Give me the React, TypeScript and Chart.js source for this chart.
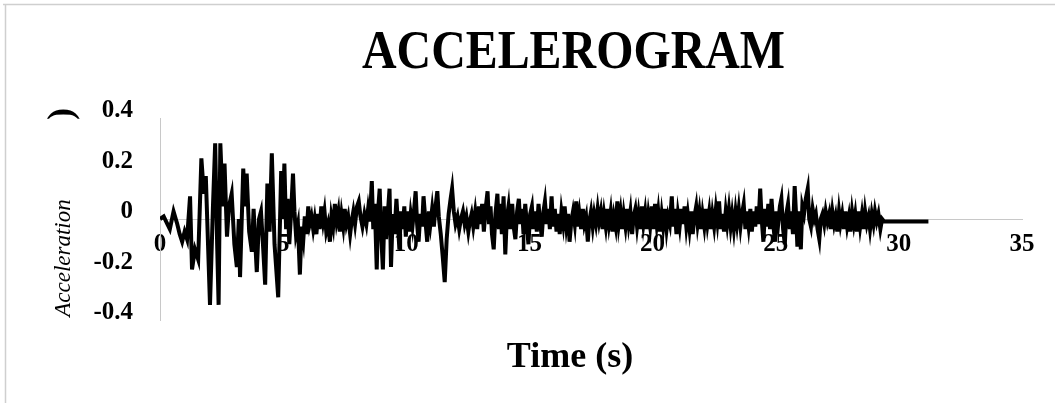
import React, { useEffect, useRef } from "react";
import { Chart, registerables } from "chart.js";

Chart.register(...registerables);

const TITLE = "ACCELEROGRAM";
const X_TITLE = "Time (s)";
const Y_TITLE = "Acceleration";
const Y_TITLE_TAIL = ")";

const X_TICKS = [0, 5, 10, 15, 20, 25, 30, 35];
const Y_TICKS = [-0.4, -0.2, 0, 0.2, 0.4];

// time (s) and acceleration (g), segment by segment
const TIME_S = [
  0.0, 0.15, 0.3, 0.4, 0.55, 0.7, 0.8, 0.9, 1.0, 1.1, 1.22, 1.3, 1.42, 1.55, 1.68, 1.78, 1.86, 2.03, 2.15, 2.24,
  2.32, 2.38, 2.45, 2.55, 2.62, 2.72, 2.8, 2.91, 3.02, 3.12, 3.2, 3.25, 3.38, 3.46, 3.52, 3.62, 3.73, 3.8, 3.93, 4.02,
  4.1, 4.18, 4.27, 4.36, 4.45, 4.54, 4.65, 4.8, 4.92,
  4.98, 5.05, 5.12, 5.18, 5.25, 5.32, 5.4, 5.46, 5.52, 5.6, 5.68, 5.75, 5.82, 5.88, 5.95, 6.02, 6.08, 6.15, 6.22, 6.28,
  6.35, 6.42, 6.48, 6.55, 6.62, 6.68, 6.75, 6.82, 6.9, 6.96, 7.03, 7.1, 7.17, 7.24, 7.3, 7.37, 7.44, 7.5, 7.57, 7.64,
  7.72, 7.78, 7.85, 7.92, 8.0, 8.07, 8.14, 8.22, 8.3, 8.38, 8.45, 8.52, 8.6, 8.66, 8.72, 8.8, 8.86, 8.92, 8.98, 9.05,
  9.12, 9.18, 9.25, 9.32, 9.38, 9.45, 9.52, 9.6, 9.66, 9.72, 9.78, 9.85, 9.92, 9.98, 10.05, 10.12, 10.18, 10.25, 10.32, 10.38,
  10.44, 10.5, 10.57, 10.64, 10.7, 10.77, 10.85, 10.92, 10.98, 11.05, 11.12, 11.2, 11.26, 11.32, 11.4, 11.48, 11.56, 11.64, 11.72, 11.8,
  11.86, 11.93, 12.0, 12.08, 12.15, 12.22, 12.3, 12.37, 12.44, 12.52, 12.58, 12.65, 12.72, 12.8, 12.88, 12.95, 13.02, 13.08, 13.15, 13.22,
  13.3, 13.36, 13.42, 13.48, 13.55, 13.62, 13.7, 13.76, 13.82, 13.88, 13.95, 14.02, 14.08, 14.15, 14.22, 14.3, 14.36, 14.43, 14.5, 14.57,
  14.63, 14.7, 14.76, 14.83, 14.9, 14.96, 15.03, 15.1, 15.16, 15.23, 15.3, 15.37, 15.43, 15.5, 15.57, 15.63, 15.7, 15.77, 15.83, 15.9,
  15.96, 16.03, 16.1, 16.17, 16.23, 16.3, 16.37, 16.43, 16.5, 16.57, 16.63, 16.7, 16.77, 16.84, 16.9, 16.97, 17.03, 17.1, 17.17, 17.23,
  17.3, 17.37, 17.43, 17.5, 17.57, 17.63, 17.7, 17.77, 17.83, 17.9, 17.97, 18.03, 18.1, 18.17, 18.23, 18.3, 18.37, 18.43, 18.5, 18.57,
  18.63, 18.7, 18.77, 18.83, 18.9, 18.97, 19.03, 19.1, 19.17, 19.23, 19.3, 19.37, 19.43, 19.5, 19.57, 19.63, 19.7, 19.77, 19.83, 19.9,
  19.97, 20.03, 20.1, 20.17, 20.23, 20.3, 20.37, 20.43, 20.5, 20.57, 20.63, 20.7, 20.78, 20.84, 20.9, 20.97, 21.03, 21.1, 21.17, 21.23,
  21.3, 21.37, 21.43, 21.5, 21.57, 21.63, 21.7, 21.77, 21.83, 21.9, 21.97, 22.03, 22.1, 22.17, 22.23, 22.3, 22.37, 22.43, 22.5, 22.57,
  22.63, 22.7, 22.77, 22.83, 22.9, 22.97, 23.03, 23.1, 23.17, 23.23, 23.3, 23.37, 23.43, 23.5, 23.57, 23.63, 23.7, 23.77, 23.83, 23.9,
  23.97, 24.03, 24.1, 24.17, 24.23, 24.3, 24.37, 24.43, 24.5, 24.57, 24.63, 24.7, 24.77, 24.83, 24.9, 24.97, 25.03, 25.1, 25.17, 25.23,
  25.3, 25.37, 25.43, 25.5, 25.57, 25.63, 25.7, 25.77, 25.83, 25.88, 25.95, 26.02, 26.08, 26.15, 26.22, 26.3, 26.36, 26.43, 26.5, 26.57,
  26.63, 26.7, 26.77, 26.83, 26.9, 26.97, 27.03, 27.1, 27.17, 27.23, 27.3, 27.37, 27.43, 27.5, 27.57, 27.63, 27.7, 27.77, 27.83, 27.9,
  27.97, 28.03, 28.1, 28.17, 28.23, 28.3, 28.37, 28.43, 28.5, 28.57, 28.63, 28.7, 28.77, 28.83, 28.9, 28.97, 29.03, 29.1, 29.17, 29.25,
  29.32, 29.4, 31.2,
];

const ACCEL_G = [
  0.0, 0.01, -0.02, -0.04, 0.03, -0.02, -0.06, -0.09, -0.05, -0.08, 0.09, -0.2, -0.12, -0.16, 0.24, 0.1, 0.17, -0.34, 0.05, 0.3,
  -0.1, -0.34, 0.3, 0.05, 0.22, -0.07, 0.05, 0.1, -0.1, -0.19, 0.0, -0.23, 0.2, 0.05, 0.18, -0.05, -0.13, 0.04, -0.21, 0.0,
  0.03, -0.1, -0.26, 0.14, -0.05, 0.26, -0.1, -0.31, 0.19,
  0.0, 0.22, -0.04, 0.08, -0.1, 0.02, 0.18, 0.03, -0.06, -0.02, -0.22, -0.03, -0.08, 0.01, -0.06, 0.05, -0.02, 0.01, -0.04, 0.0,
  -0.06, 0.02, -0.04, 0.05, -0.01, 0.03, -0.05, -0.02, -0.09, 0.01, -0.03, 0.06, -0.01, 0.03, -0.05, 0.02, -0.03, 0.04, -0.02, 0.01,
  -0.06, -0.01, 0.03, -0.02, 0.05, 0.07, 0.01, -0.03, 0.02, -0.02, 0.04, -0.01, 0.15, -0.04, 0.06, -0.2, 0.04, 0.12, -0.06, -0.2,
  0.05, -0.08, 0.02, 0.12, -0.19, 0.02, -0.06, 0.08, -0.02, -0.12, 0.03, -0.04, 0.05, -0.07, 0.03, -0.05, 0.02, -0.03, 0.04, 0.11,
  -0.02, -0.09, 0.02, -0.03, 0.09, 0.0, -0.09, 0.03, -0.02, 0.04, -0.03, 0.06, 0.11, 0.01, -0.06, -0.15, -0.25, -0.08, 0.02, 0.08,
  0.12, 0.03, -0.02, 0.01, -0.04, 0.0, 0.03, -0.02, 0.01, -0.05, -0.01, 0.02, -0.03, 0.03, -0.04, 0.05, -0.02, 0.06, -0.05, 0.04,
  0.11, -0.02, 0.05, -0.06, -0.12, 0.02, 0.1, -0.04, 0.06, -0.06, 0.09, -0.14, 0.0, 0.05, -0.04, 0.06, -0.03, -0.08, 0.03, 0.08,
  -0.02, 0.04, -0.06, 0.06, -0.03, -0.1, 0.02, 0.05, -0.04, 0.03, -0.05, 0.06, -0.01, -0.07, 0.03, 0.07, -0.02, 0.04, -0.04, 0.09,
  -0.03, 0.04, -0.05, 0.02, -0.06, 0.03, -0.02, 0.05, -0.03, 0.02, -0.09, -0.01, 0.03, -0.02, 0.07, -0.03, 0.02, -0.04, 0.04, -0.02,
  0.01, -0.09, -0.01, 0.03, -0.03, 0.02, -0.02, 0.04, -0.01, 0.03, -0.04, 0.02, -0.03, 0.04, -0.02, 0.03, -0.05, 0.01, -0.03, 0.07,
  -0.02, 0.03, -0.04, 0.02, -0.03, 0.04, -0.02, 0.03, -0.06, 0.01, 0.04, -0.03, 0.02, -0.04, 0.05, -0.02, 0.03, -0.04, 0.02, -0.03,
  0.05, -0.04, 0.06, -0.02, 0.03, -0.05, 0.02, -0.03, 0.04, -0.04, 0.01, -0.02, 0.09, -0.03, 0.04, -0.06, 0.02, -0.03, 0.04, -0.02,
  0.05, -0.03, 0.02, -0.04, 0.03, -0.06, 0.01, 0.05, -0.02, 0.03, -0.04, 0.02, -0.03, 0.04, -0.02, 0.03, -0.04, 0.02, -0.03, 0.04,
  -0.01, 0.07, -0.04, 0.02, -0.05, 0.03, -0.02, 0.04, -0.03, 0.02, -0.04, 0.03, -0.02, 0.04, -0.03, 0.02, 0.06, -0.04, 0.03, -0.03,
  0.04, -0.05, 0.03, -0.03, 0.05, -0.02, 0.12, 0.0, -0.09, 0.04, -0.03, 0.06, -0.04, 0.08, -0.02, -0.09, 0.03, -0.02, 0.05, 0.08,
  -0.04, -0.1, 0.02, 0.06, -0.04, 0.03, -0.06, 0.13, 0.01, -0.11, 0.03, -0.12, 0.05, 0.02, 0.08, 0.12, 0.0, -0.03, 0.04, 0.0,
  0.02, -0.04, -0.08, 0.0, 0.02, -0.02, 0.03, -0.01, 0.02, -0.04, 0.03, -0.02, 0.01, -0.05, 0.03, -0.02, 0.02, -0.04, 0.03, -0.03,
  0.01, -0.05, 0.03, -0.02, 0.02, -0.05, 0.03, -0.03, 0.02, -0.04, 0.03, -0.02, 0.01, -0.04, 0.02, -0.02, 0.03, -0.01, 0.02, -0.04,
  0.0, -0.01, -0.01,
];

const SERIF = "'Liberation Serif', 'Times New Roman', serif";

const decoPlugin = {
  id: "deco",
  beforeDraw(chart: any) {
    const ctx = chart.ctx;
    ctx.save();
    ctx.fillStyle = "#ffffff";
    ctx.fillRect(0, 0, chart.width, chart.height);
    ctx.strokeStyle = "#cfcfcf";
    ctx.lineWidth = 1.5;
    ctx.beginPath();
    ctx.moveTo(3, 4.5);
    ctx.lineTo(chart.width, 4.5);
    ctx.moveTo(5.5, 4);
    ctx.lineTo(5.5, chart.height);
    ctx.stroke();
    ctx.restore();
  },
  afterDraw(chart: any) {
    const ctx = chart.ctx;
    ctx.save();
    ctx.fillStyle = "#000000";
    // title
    ctx.font = `bold 54px ${SERIF}`;
    ctx.textAlign = "left";
    ctx.textBaseline = "alphabetic";
    const tw = ctx.measureText(TITLE).width;
    const targetW = 423;
    ctx.save();
    ctx.translate(362, 68);
    ctx.scale(targetW / tw, 1);
    ctx.fillText(TITLE, 0, 0);
    ctx.restore();
    // x title
    ctx.font = `bold 36px ${SERIF}`;
    ctx.textAlign = "center";
    ctx.fillText(X_TITLE, 570, 367);
    // y title
    ctx.save();
    ctx.translate(70, 258);
    ctx.rotate(-Math.PI / 2);
    ctx.font = `italic 23px ${SERIF}`;
    ctx.textAlign = "center";
    ctx.fillText(Y_TITLE, 0, 0);
    ctx.restore();
    // remnant of the unit bracket
    ctx.save();
    ctx.translate(72, 114);
    ctx.rotate(-Math.PI / 2);
    ctx.font = `bold 36px ${SERIF}`;
    ctx.textAlign = "center";
    ctx.fillText(Y_TITLE_TAIL, 0, 0);
    ctx.restore();
    ctx.restore();
  },
};

export default function App() {
  const ref = useRef<HTMLCanvasElement | null>(null);

  useEffect(() => {
    if (!ref.current) return;
    const points = TIME_S.map((t, i) => ({ x: t, y: ACCEL_G[i] }));
    const chart = new Chart(ref.current, {
      type: "line",
      data: {
        datasets: [
          {
            data: points,
            borderColor: "#000000",
            borderWidth: 4,
            pointRadius: 0,
            tension: 0,
            borderJoinStyle: "miter",
          },
        ],
      },
      options: {
        animation: false,
        responsive: false,
        devicePixelRatio: 1,
        layout: { padding: { left: 0, right: 33, top: 118, bottom: 83 } },
        plugins: {
          legend: { display: false },
          tooltip: { enabled: false },
          title: { display: false },
        },
        scales: {
          x: {
            type: "linear",
            position: { y: 0 } as any,
            min: 0,
            max: 35,
            afterBuildTicks: (scale: any) => {
              scale.ticks = X_TICKS.map((v) => ({ value: v }));
            },
            grid: { display: false, drawTicks: false },
            border: { display: true, color: "#c8c8c8", width: 1 },
            ticks: {
              color: "#000000",
              font: { family: SERIF, size: 25, weight: "bold" },
              padding: 11,
              maxRotation: 0,
              autoSkip: false,
              callback: (v: any) => String(v),
            },
          },
          y: {
            type: "linear",
            position: "left",
            min: -0.4,
            max: 0.4,
            afterBuildTicks: (scale: any) => {
              scale.ticks = Y_TICKS.map((v) => ({ value: v }));
            },
            afterFit: (scale: any) => {
              scale.width = 160;
            },
            grid: { display: false, drawTicks: false },
            border: { display: true, color: "#c8c8c8", width: 1 },
            ticks: {
              color: "#000000",
              font: { family: SERIF, size: 25, weight: "bold" },
              padding: 27,
              labelOffset: -7,
              autoSkip: false,
              callback: (v: any) => (Math.abs(v) < 1e-9 ? "0" : Number(v).toFixed(1)),
            },
          },
        },
      },
      plugins: [decoPlugin],
    });
    return () => chart.destroy();
  }, []);

  return (
    <div style={{ position: "fixed", left: 0, top: 0, width: 1055, height: 403, background: "#fff" }}>
      <canvas ref={ref} width={1055} height={403} style={{ display: "block", width: 1055, height: 403 }} />
    </div>
  );
}
